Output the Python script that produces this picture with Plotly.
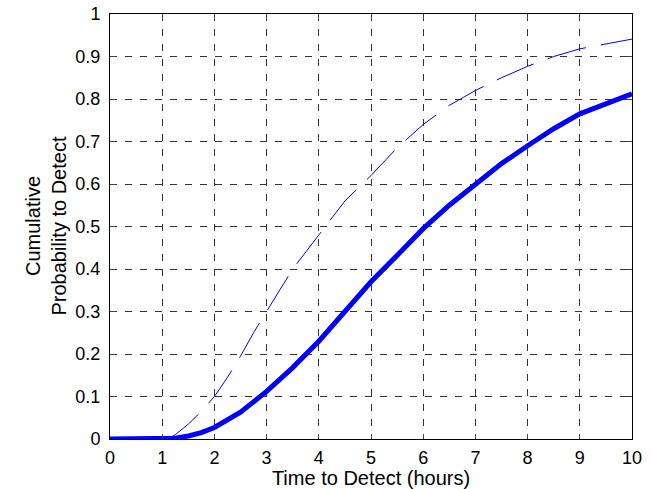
import plotly.graph_objects as go

solid_x = [0, 0.5, 1, 1.25, 1.5, 1.75, 2, 2.5, 3, 3.5, 4, 4.5, 5, 5.5, 6, 6.5, 7, 7.5, 8, 8.5, 9, 9.5, 10]
solid_y = [0, 0, 0, 0.002, 0.007, 0.015, 0.027, 0.063, 0.112, 0.168, 0.23, 0.3, 0.37, 0.432, 0.495, 0.55, 0.6, 0.648, 0.69, 0.73, 0.765, 0.79, 0.812]

dash_x = [1.1, 1.25, 1.5, 1.75, 2, 2.25, 2.5, 2.75, 3, 3.5, 4, 4.5, 5, 5.5, 6, 6.5, 7, 7.5, 8, 8.5, 9, 9.5, 10]
dash_y = [0, 0.01, 0.035, 0.065, 0.1, 0.145, 0.195, 0.25, 0.3, 0.4, 0.48, 0.56, 0.62, 0.685, 0.74, 0.785, 0.82, 0.85, 0.877, 0.9, 0.918, 0.93, 0.941]

x_ticks = list(range(0, 11))
y_ticks = [0, 0.1, 0.2, 0.3, 0.4, 0.5, 0.6, 0.7, 0.8, 0.9, 1]
y_labels = ["0", "0.1", "0.2", "0.3", "0.4", "0.5", "0.6", "0.7", "0.8", "0.9", "1"]

fig = go.Figure()
fig.add_trace(go.Scatter(x=dash_x, y=dash_y, mode="lines",
                         line=dict(color="#0000FF", width=1, dash="40px,15px"),
                         showlegend=False))
fig.add_trace(go.Scatter(x=solid_x, y=solid_y, mode="lines",
                         line=dict(color="#0000FF", width=5),
                         showlegend=False))

font = dict(family="Liberation Sans, Arial, sans-serif", color="black")
grid = dict(showgrid=True, gridcolor="#333333", griddash="7px,8px", gridwidth=1)
fig.update_layout(
    width=652, height=489,
    margin=dict(l=110, r=20, t=14, b=50),
    paper_bgcolor="white", plot_bgcolor="white",
    font=dict(size=18, **font),
    xaxis=dict(range=[0, 10], tickvals=x_ticks, ticks="inside", ticklen=5,
               showline=True, linecolor="black", linewidth=1, mirror="ticks",
               zeroline=False, ticklabelstandoff=2, automargin=False, **grid,
               title=dict(text="Time to Detect (hours)", font=dict(size=20, **font))),
    yaxis=dict(range=[0, 1], tickvals=y_ticks, ticktext=y_labels, ticks="inside", ticklen=5,
               showline=True, linecolor="black", linewidth=1, mirror="ticks",
               zeroline=False, ticklabelstandoff=5, automargin=False, **grid),
    annotations=[dict(text="Cumulative<br>Probability to Detect", xref="paper", yref="paper",
                      x=0, y=0.5, xshift=-65, xanchor="center", yanchor="middle",
                      textangle=-90, showarrow=False, font=dict(size=20, **font))],
)

fig.write_html("out.html")
